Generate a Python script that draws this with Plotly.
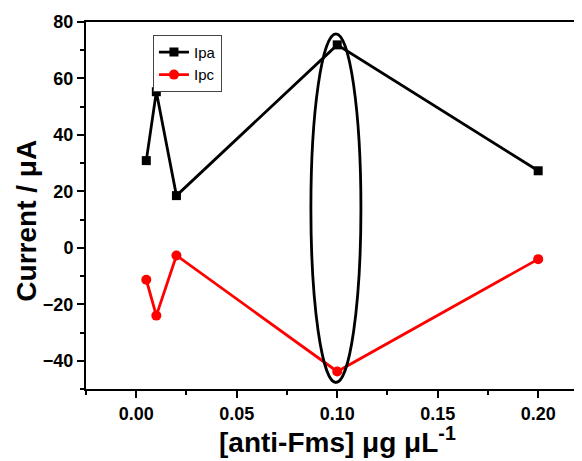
import plotly.graph_objects as go

# Data
conc = [0.005, 0.01, 0.02, 0.1, 0.2]
ipa = [30.9, 55.3, 18.5, 71.9, 27.3]
ipc = [-11.3, -24.0, -2.7, -43.8, -4.0]
series_names = ["Ipa", "Ipc"]
x_ticks = [0.0, 0.05, 0.10, 0.15, 0.20]
x_labels = ["0.00", "0.05", "0.10", "0.15", "0.20"]
y_ticks = [-40, -20, 0, 20, 40, 60, 80]
ellipse_x = [0.0869, 0.1118]
ellipse_y = [-47.7, 75.8]

FONT = "Liberation Sans, Arial, sans-serif"

fig = go.Figure()
fig.add_trace(go.Scatter(
    x=conc, y=ipa, name=series_names[0], mode="lines+markers",
    line=dict(color="black", width=2.8),
    marker=dict(symbol="square", size=9, color="black"),
))
fig.add_trace(go.Scatter(
    x=conc, y=ipc, name=series_names[1], mode="lines+markers",
    line=dict(color="#ff0000", width=2.8),
    marker=dict(symbol="circle", size=10, color="#ff0000"),
))

fig.add_shape(type="circle", xref="x", yref="y",
              x0=ellipse_x[0], x1=ellipse_x[1], y0=ellipse_y[0], y1=ellipse_y[1],
              line=dict(color="black", width=2.8))

fig.update_layout(
    width=574, height=453,
    margin=dict(l=78, r=0, t=14, b=72),
    plot_bgcolor="white", paper_bgcolor="white",
    font=dict(family=FONT, color="black"),
    showlegend=True,
    legend=dict(x=0.135, y=0.965, xanchor="left", yanchor="top",
                bordercolor="#444444", borderwidth=1, bgcolor="white",
                font=dict(family=FONT, size=15, color="black"),
                itemwidth=30, tracegroupgap=0),
    xaxis=dict(
        range=[-0.025, 0.2218], showline=True, linecolor="black", linewidth=2,
        mirror=True, ticks="outside", ticklen=7, tickwidth=2, tickcolor="black",
        tickvals=x_ticks, ticktext=x_labels, showgrid=False, zeroline=False,
        tickfont=dict(family=FONT, size=18, weight="bold", color="black"),
        minor=dict(ticks="outside", ticklen=4, tickwidth=2, tickcolor="black",
                   dtick=0.025, tick0=0, showgrid=False),
    ),
    yaxis=dict(
        range=[-50, 80], showline=True, linecolor="black", linewidth=2,
        mirror=False, ticks="outside", ticklen=7, tickwidth=2, tickcolor="black",
        tickvals=y_ticks, showgrid=False, zeroline=False,
        tickfont=dict(family=FONT, size=18, weight="bold", color="black"),
        minor=dict(ticks="outside", ticklen=4, tickwidth=2, tickcolor="black",
                   dtick=10, tick0=0, showgrid=False),
    ),
    annotations=[
        dict(text="[anti-Fms] \u03bcg \u03bcL<sup>-1</sup>", xref="paper", yref="paper",
             x=0.508, y=-0.14, xanchor="center", yanchor="middle", showarrow=False,
             font=dict(family=FONT, size=28, weight="bold", color="black")),
        dict(text="Current / \u03bcA", xref="paper", yref="paper",
             x=-0.12, y=0.46, xanchor="center", yanchor="middle", showarrow=False,
             textangle=-90,
             font=dict(family=FONT, size=28, weight="bold", color="black")),
    ],
)

fig.write_html("out.html")
